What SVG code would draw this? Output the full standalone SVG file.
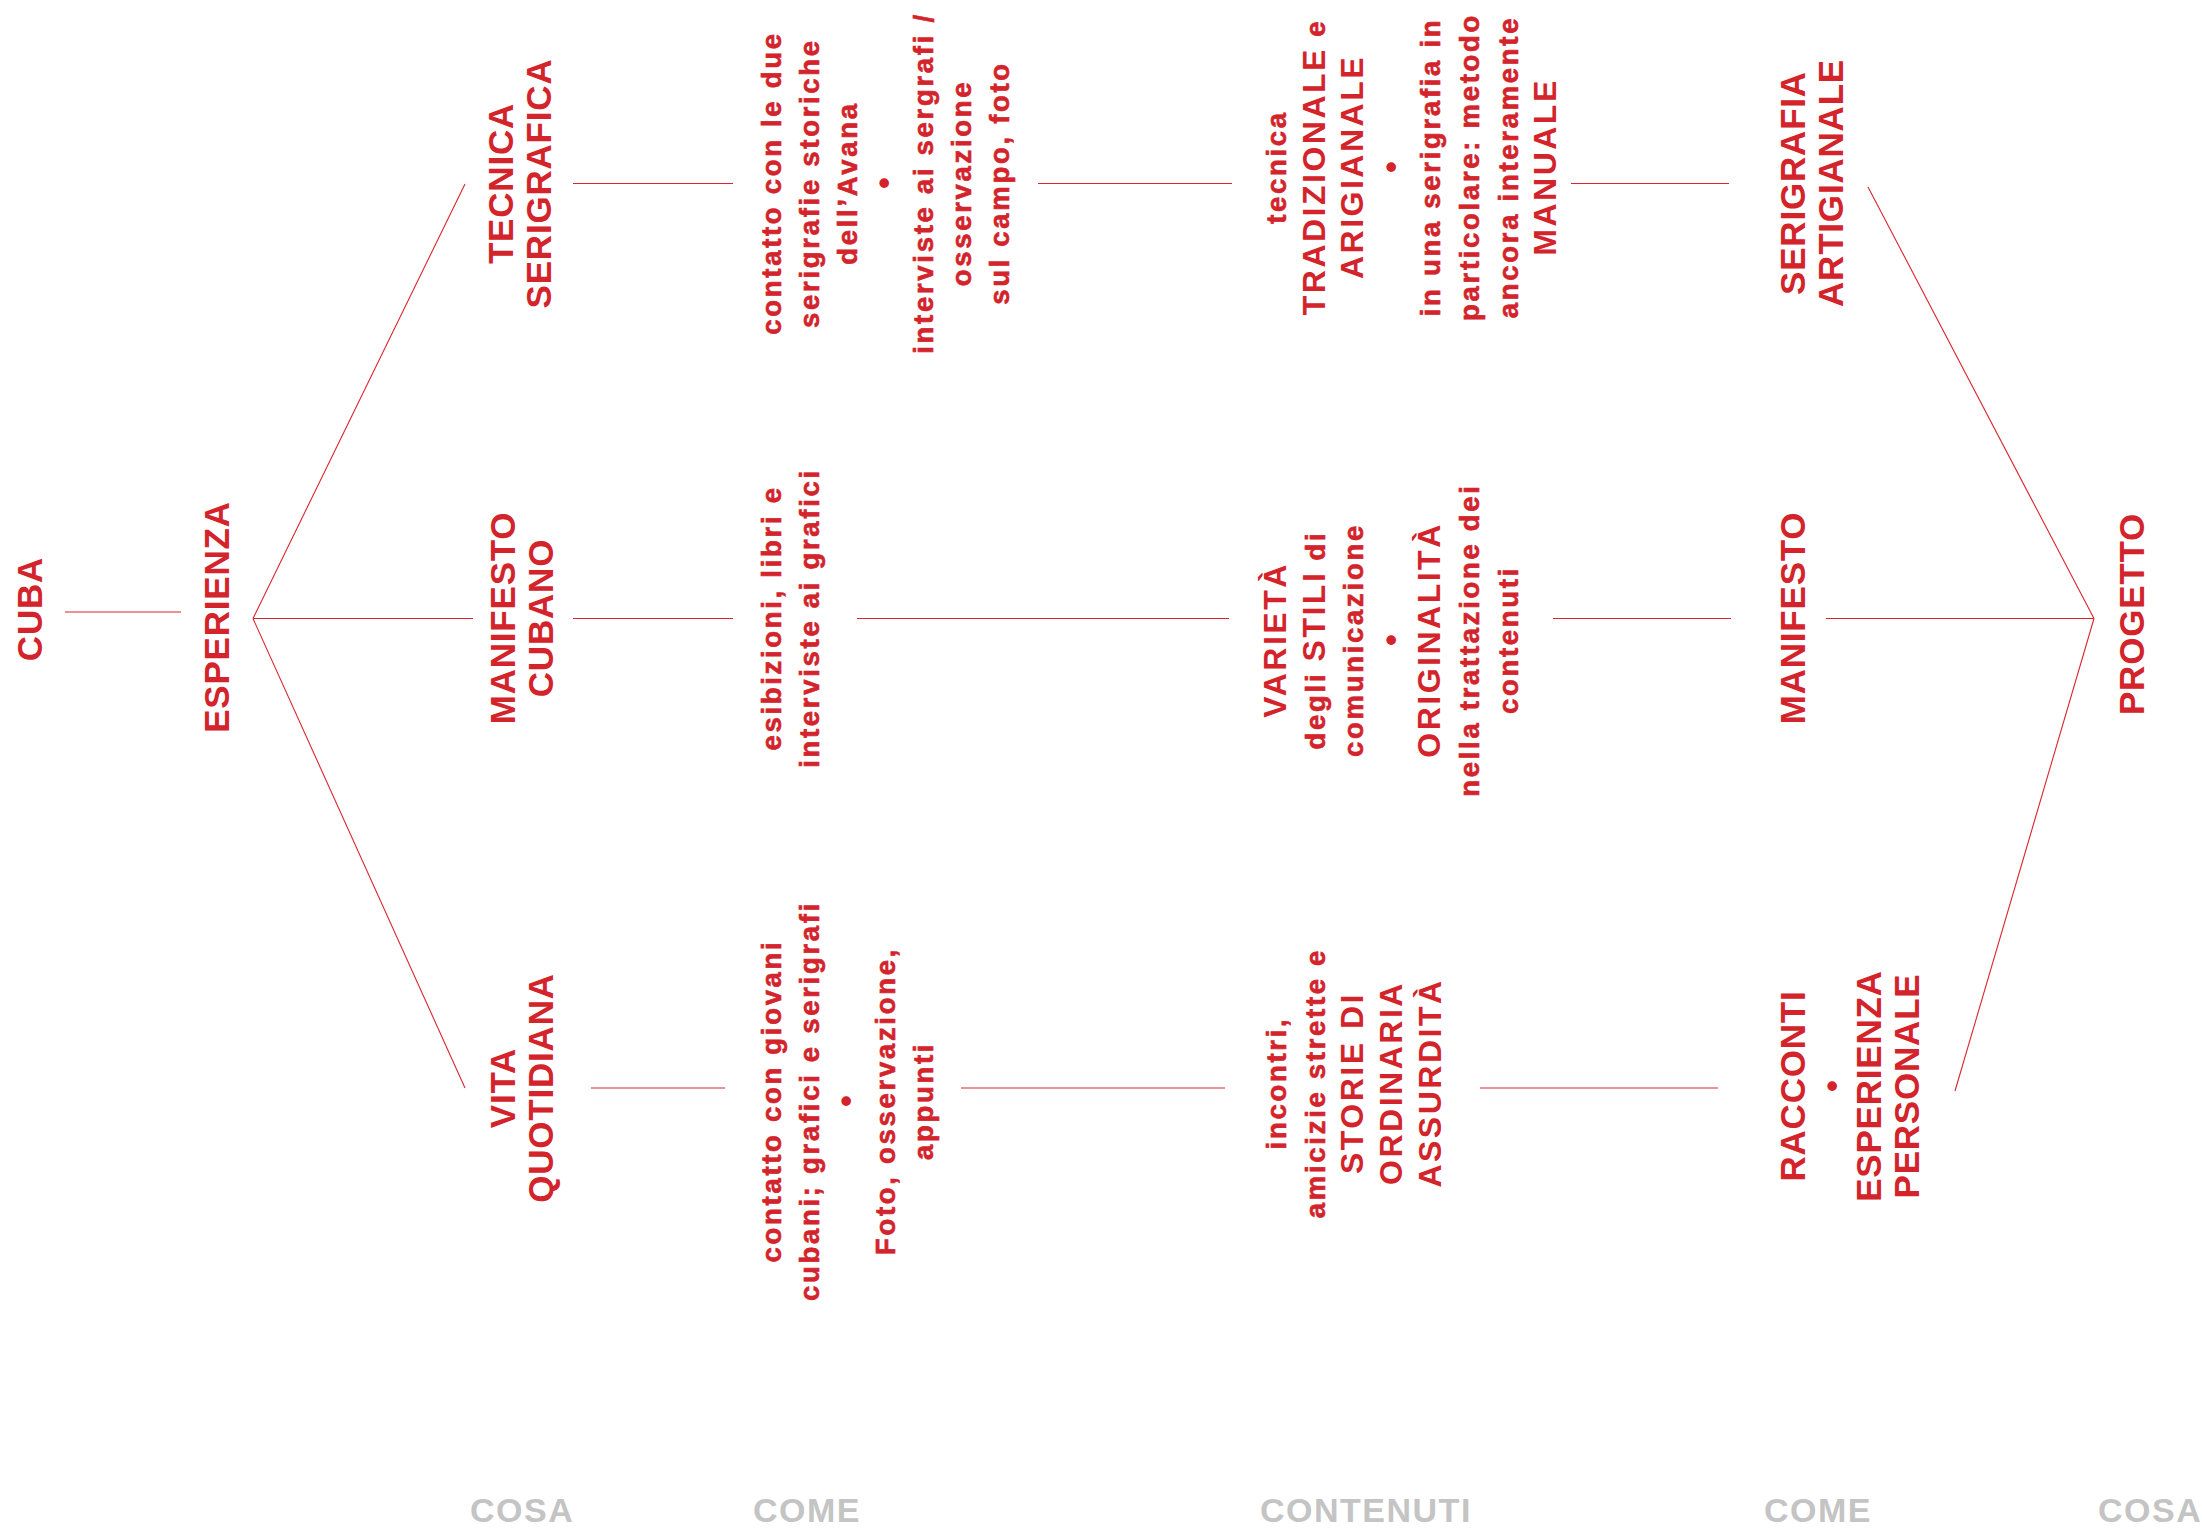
<svg xmlns="http://www.w3.org/2000/svg" width="2202" height="1534" viewBox="0 0 2202 1534">
<style>
text{font-family:"Liberation Sans",Arial,Helvetica,sans-serif;font-weight:bold;fill:#d3232b;text-anchor:middle}
.t{font-size:35px;letter-spacing:0.8px}
.s{font-size:27.5px;letter-spacing:2.7px;stroke:#d3232b;stroke-width:0.6px}
.c{font-size:32px;letter-spacing:2.5px;stroke:none}
.b{font-size:34px;letter-spacing:0}
.g{font-size:34px;letter-spacing:1.5px;fill:#c4c4c4;text-anchor:start}
.ln{stroke:#d9262e;stroke-width:1.1;fill:none}
</style>
<rect width="2202" height="1534" fill="#ffffff"/>
<g id="connectors" class="ln">
<line x1="65" y1="612" x2="181" y2="612"/>
<line x1="253" y1="618.5" x2="465" y2="184"/>
<line x1="253" y1="618.5" x2="473" y2="618.5"/>
<line x1="253" y1="618.5" x2="465" y2="1088"/>
<line x1="573" y1="183.5" x2="733" y2="183.5"/>
<line x1="1038" y1="183.5" x2="1232" y2="183.5"/>
<line x1="1571" y1="183.5" x2="1729" y2="183.5"/>
<line x1="573" y1="618.5" x2="733" y2="618.5"/>
<line x1="857" y1="618.5" x2="1229" y2="618.5"/>
<line x1="1553" y1="618.5" x2="1731" y2="618.5"/>
<line x1="1826" y1="618.5" x2="2094" y2="618.5"/>
<line x1="591" y1="1088" x2="725" y2="1088"/>
<line x1="961" y1="1088" x2="1225" y2="1088"/>
<line x1="1480" y1="1088" x2="1718" y2="1088"/>
<line x1="1868" y1="187" x2="2094" y2="618.5"/>
<line x1="1955" y1="1091" x2="2094" y2="618.5"/>
</g>
<g id="cuba" transform="translate(0,609) rotate(-90)"><text class="t" x="0" y="42">CUBA</text></g>
<g id="esperienza" transform="translate(0,617) rotate(-90)"><text class="t" x="0" y="229">ESPERIENZA</text></g>
<g id="tecnica-serigrafica" transform="translate(0,183.5) rotate(-90)">
<text class="t" x="0" y="513">TECNICA</text>
<text class="t" x="0" y="551">SERIGRAFICA</text>
</g>
<g id="manifesto-cubano" transform="translate(0,618) rotate(-90)">
<text class="t" x="0" y="515">MANIFESTO</text>
<text class="t" x="0" y="553">CUBANO</text>
</g>
<g id="vita-quotidiana" transform="translate(0,1088) rotate(-90)">
<text class="t" x="0" y="515">VITA</text>
<text class="t" x="0" y="553">QUOTIDIANA</text>
</g>
<g id="come-top" transform="translate(0,183) rotate(-90)">
<text class="s" x="0" y="781">contatto con le due</text>
<text class="s" x="0" y="819">serigrafie storiche</text>
<text class="s" x="0" y="857">dell’Avana</text>
<text class="b" x="0" y="895">•</text>
<text class="s" x="0" y="933">interviste ai sergrafi /</text>
<text class="s" x="0" y="971">osservazione</text>
<text class="s" x="0" y="1009">sul campo, foto</text>
</g>
<g id="come-mid" transform="translate(0,618) rotate(-90)">
<text class="s" x="0" y="781">esibizioni, libri e</text>
<text class="s" x="0" y="819">interviste ai grafici</text>
</g>
<g id="come-bottom" transform="translate(0,1101) rotate(-90)">
<text class="s" x="0" y="781">contatto con giovani</text>
<text class="s" x="0" y="819">cubani; grafici e serigrafi</text>
<text class="b" x="0" y="857">•</text>
<text class="s" x="0" y="895">Foto, osservazione,</text>
<text class="s" x="0" y="933">appunti</text>
</g>
<g id="contenuti-top" transform="translate(0,167) rotate(-90)">
<text class="s" x="0" y="1286">tecnica</text>
<text class="s" x="0" y="1325"><tspan class="c">TRADIZIONALE</tspan> e</text>
<text class="c" x="0" y="1363">ARIGIANALE</text>
<text class="b" x="0" y="1402">•</text>
<text class="s" x="0" y="1440">in una serigrafia in</text>
<text class="s" x="0" y="1479">particolare: metodo</text>
<text class="s" x="0" y="1518">ancora interamente</text>
<text class="c" x="0" y="1556">MANUALE</text>
</g>
<g id="contenuti-mid" transform="translate(0,640) rotate(-90)">
<text class="c" x="0" y="1286">VARIETÀ</text>
<text class="s" x="0" y="1325">degli <tspan class="c">STILI</tspan> di</text>
<text class="s" x="0" y="1363">comunicazione</text>
<text class="b" x="0" y="1402">•</text>
<text class="c" x="0" y="1440">ORIGINALITÀ</text>
<text class="s" x="0" y="1479">nella trattazione dei</text>
<text class="s" x="0" y="1518">contenuti</text>
</g>
<g id="contenuti-bottom" transform="translate(0,1083) rotate(-90)">
<text class="s" x="0" y="1286">incontri,</text>
<text class="s" x="0" y="1325">amicizie strette e</text>
<text class="c" x="0" y="1363">STORIE DI</text>
<text class="c" x="0" y="1402">ORDINARIA</text>
<text class="c" x="0" y="1441">ASSURDITÀ</text>
</g>
<g id="serigrafia-artigianale" transform="translate(0,183) rotate(-90)">
<text class="t" x="0" y="1805">SERIGRAFIA</text>
<text class="t" x="0" y="1843">ARTIGIANALE</text>
</g>
<g id="manifesto" transform="translate(0,618) rotate(-90)"><text class="t" x="0" y="1805">MANIFESTO</text></g>
<g id="racconti" transform="translate(0,1086) rotate(-90)">
<text class="t" x="0" y="1805">RACCONTI</text>
<text class="b" x="0" y="1843">•</text>
<text class="t" x="0" y="1881">ESPERIENZA</text>
<text class="t" x="0" y="1919">PERSONALE</text>
</g>
<g id="progetto" transform="translate(0,614) rotate(-90)"><text class="t" x="0" y="2144">PROGETTO</text></g>
<g id="labels">
<text class="g" x="470" y="1522">COSA</text>
<text class="g" x="753" y="1522">COME</text>
<text class="g" x="1260" y="1522">CONTENUTI</text>
<text class="g" x="1764" y="1522">COME</text>
<text class="g" x="2098" y="1522">COSA</text>
</g>
</svg>
